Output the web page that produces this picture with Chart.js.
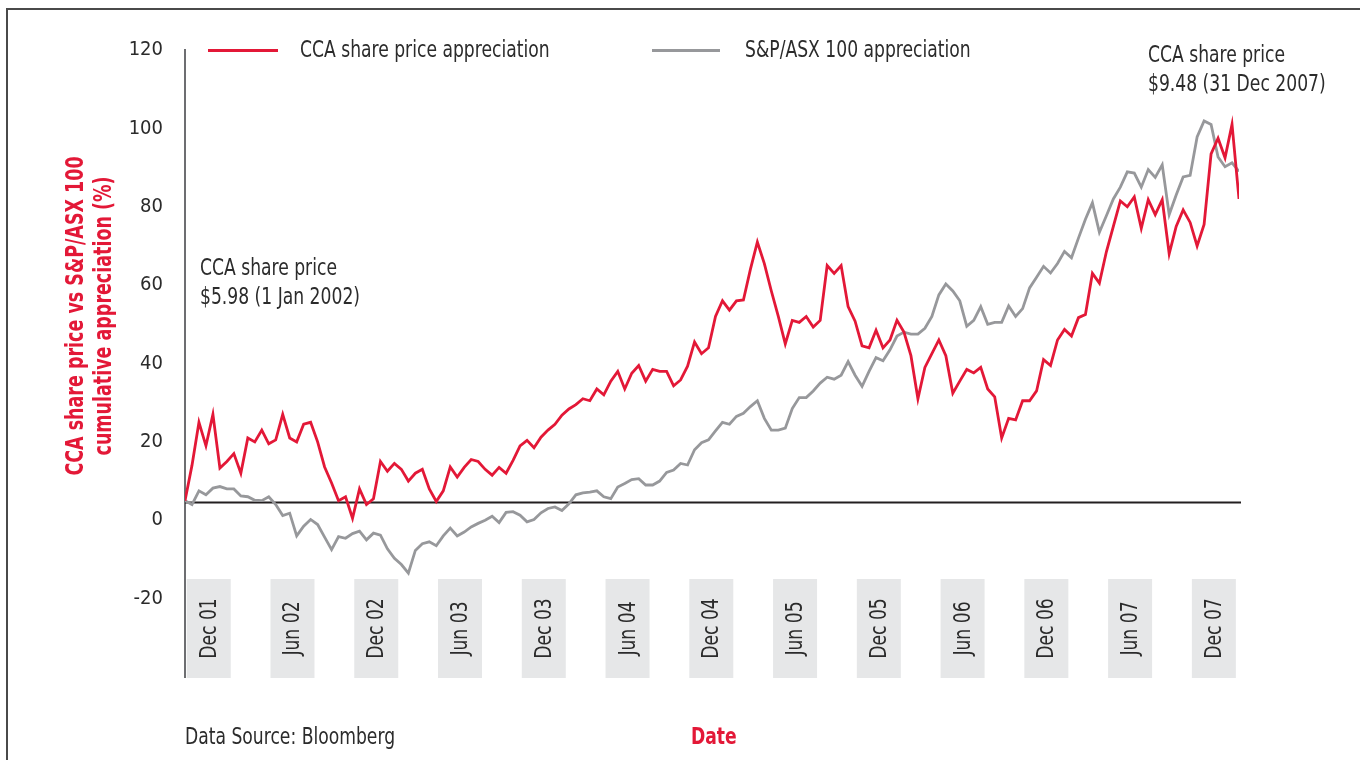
<!DOCTYPE html>
<html>
<head>
<meta charset="utf-8">
<title>CCA share price vs S&P/ASX 100</title>
<script src="https://cdn.jsdelivr.net/npm/chart.js@4.4.1/dist/chart.umd.min.js"></script>
<style>
  html, body { margin: 0; padding: 0; background: #fff; }
  #wrap { position: relative; width: 1360px; height: 760px; overflow: hidden; }
  #chart { position: absolute; left: 0; top: 0; }
  .txt {
    position: absolute;
    font-family: 'DejaVu Sans Condensed', 'DejaVu Sans', Arial, sans-serif;
    font-size: 23px;
    line-height: 29px;
    color: #2b2b2b;
    white-space: nowrap;
    transform: scaleX(0.83);
    transform-origin: 0 50%;
  }
  .frame-top { position: absolute; left: 7px; top: 8px; width: 1353px; height: 2px; background: #4a4a4a; }
  .frame-left { position: absolute; left: 6px; top: 8px; width: 2px; height: 752px; background: #4a4a4a; }
  .key { position: absolute; height: 3px; }
  .txt.ytitle {
    left: -111px; top: 288px; width: 400px; height: 56px;
    transform: rotate(-90deg) scaleX(0.81); transform-origin: 50% 50%;
    text-align: center; font-weight: bold; font-size: 24px; line-height: 28px; color: #e31837;
  }
</style>
</head>
<body>
<div id="wrap">
  <canvas id="chart" width="1360" height="760"></canvas>
  <div class="frame-top"></div>
  <div class="frame-left"></div>

  <div class="key" style="left:208px; top:49px; width:70px; background:#e31837;"></div>
  <div class="txt" style="left:300px; top:35px;">CCA share price appreciation</div>
  <div class="key" style="left:652px; top:49px; width:68px; background:#97989b;"></div>
  <div class="txt" style="left:745px; top:35px;">S&amp;P/ASX 100 appreciation</div>

  <div class="txt" style="left:200px; top:253px;">CCA share price<br>$5.98 (1 Jan 2002)</div>
  <div class="txt" style="left:1148px; top:40px;">CCA share price<br>$9.48 (31 Dec 2007)</div>

  <div class="txt ytitle">CCA share price vs S&amp;P/ASX 100<br>cumulative appreciation (%)</div>

  <div class="txt" style="left:185px; top:722px;">Data Source: Bloomberg</div>
  <div class="txt" style="left:691px; top:722px; font-weight:bold; color:#e31837;">Date</div>
</div>

<script>
// half-monthly samples, cumulative appreciation in %
const ccaValues = [
  5, 14, 25, 19, 27, 13.3, 15, 17, 12, 21,
  20, 23, 19.5, 20.5, 27, 21, 20, 24.5, 25, 20,
  13.6, 9.5, 5, 6, 0.5, 8, 4, 5.5, 15, 12.5,
  14.5, 13, 10, 12, 13, 8, 4.8, 7.5, 13.6, 11,
  13.5, 15.5, 15, 13, 11.5, 13.5, 12, 15.3, 19, 20.4,
  18.5, 21.2, 23, 24.5, 26.8, 28.4, 29.5, 31, 30.5, 33.5,
  32, 35.5, 38, 33.5, 37.5, 39.5, 35.5, 38.5, 38, 38,
  34.3, 35.8, 39.3, 45.5, 42.5, 44, 52, 56, 53.6, 56,
  56.2, 64, 71, 65.5, 58.5, 52, 45, 51, 50.5, 52,
  49.3, 51, 65, 63, 65, 54.5, 50.8, 44.5, 44, 48.5,
  44, 46, 51, 48, 42, 31, 39, 42.5, 46, 42,
  32.4, 35.5, 38.5, 37.6, 39, 33.5, 31.5, 21, 26, 25.6,
  30.5, 30.5, 33, 41, 39.5, 46, 48.7, 47, 51.7, 52.5,
  63, 60.5, 68.5, 75, 81.5, 80, 82.5, 74.5, 81.8, 78,
  81.8, 68, 75, 79.2, 76, 70, 75.5, 93.5, 97.5, 92.5,
  101, 82
];

const asxValues = [
  5, 4, 7.5, 6.5, 8.2, 8.6, 8, 8, 6.2, 6,
  5.1, 5, 6, 4, 1.2, 1.8, -4, -1.5, 0.2, -1.1,
  -4.3, -7.5, -4.2, -4.6, -3.4, -2.8, -5, -3.3, -3.8, -7.3,
  -9.7, -11.3, -13.5, -7.7, -6, -5.5, -6.5, -4, -2, -4,
  -3, -1.7, -0.8, 0, 1, -0.6, 2, 2.2, 1.3, -0.4,
  0.2, 1.9, 3, 3.4, 2.5, 4.2, 6.5, 7, 7.2, 7.5,
  6, 5.5, 8.5, 9.4, 10.4, 10.6, 9, 9, 10, 12.2,
  12.8, 14.5, 14.1, 18, 19.8, 20.5, 22.8, 25, 24.5, 26.5,
  27.3, 29, 30.5, 26, 23, 23, 23.5, 28.5, 31.3, 31.3,
  33, 35, 36.5, 36, 37, 40.5, 37, 34.2, 38, 41.5,
  40.7, 43.5, 47, 48, 47.5, 47.5, 49, 52, 57.5, 60.3,
  58.5, 56, 49.5, 51, 54.5, 50, 50.5, 50.5, 54.7, 52,
  54, 59.3, 62, 64.8, 63.1, 65.5, 68.6, 67, 72, 76.8,
  81, 73.5, 77.7, 82, 85, 88.9, 88.6, 85, 89.5, 87.5,
  90.7, 78, 83, 87.6, 88, 97.8, 101.9, 101, 92.7, 90.2,
  91.2, 89
];

const dateLabels = ['Dec 01', 'Jun 02', 'Dec 02', 'Jun 03', 'Dec 03', 'Jun 04', 'Dec 04',
                    'Jun 05', 'Dec 05', 'Jun 06', 'Dec 06', 'Jun 07', 'Dec 07'];
const firstDateTick = 3.4;   // in half-month samples
const dateTickStep = 12;     // six months
const baselineValue = 4.6;   // horizontal reference line
const yTickValues = [-20, 0, 20, 40, 60, 80, 100, 120];

const RED = '#e31837';
const GREY = '#97989b';
const FONT = "'DejaVu Sans Condensed', 'DejaVu Sans', Arial, sans-serif";

const toPoints = arr => arr.map((v, i) => ({ x: i, y: v }));

// reference line at the start level
const baseline = {
    id: 'baseline',
    beforeDatasetsDraw(chart) {
        const { ctx, scales: { x, y } } = chart;
        const py = Math.round(y.getPixelForValue(baselineValue)) + 0.5;
        ctx.save();
        ctx.strokeStyle = '#231f20';
        ctx.lineWidth = 2;
        ctx.beginPath();
        ctx.moveTo(x.left, py);
        ctx.lineTo(x.right + 2, py);
        ctx.stroke();
        ctx.restore();
    }
};

// grey boxes with the rotated date labels
const dateBoxes = {
    id: 'dateBoxes',
    beforeDatasetsDraw(chart) {
        const { ctx, chartArea, scales: { x, y } } = chart;
        const top = y.getPixelForValue(-15);
        const bottom = chartArea.bottom + 1;
        ctx.save();
        dateLabels.forEach((label, k) => {
            const cx = x.getPixelForValue(firstDateTick + k * dateTickStep);
            ctx.fillStyle = '#e6e7e8';
            ctx.fillRect(cx - 22, top, 44, bottom - top);
            ctx.save();
            ctx.translate(cx, (top + bottom) / 2);
            ctx.rotate(-Math.PI / 2);
            ctx.scale(0.83, 1);
            ctx.fillStyle = '#2b2b2b';
            ctx.font = '23px ' + FONT;
            ctx.textAlign = 'center';
            ctx.textBaseline = 'middle';
            ctx.fillText(label, 0, 1);
            ctx.restore();
        });
        ctx.restore();
    }
};

const ctx = document.getElementById('chart');

new Chart(ctx, {
    type: 'line',
    data: {
        datasets: [{
            label: 'CCA share price appreciation',
            data: toPoints(ccaValues),
            borderColor: RED,
            borderWidth: 2.8,
            pointRadius: 0,
            tension: 0
        }, {
            label: 'S&P/ASX 100 appreciation',
            data: toPoints(asxValues),
            borderColor: GREY,
            borderWidth: 2.8,
            pointRadius: 0,
            tension: 0
        }]
    },
    options: {
        responsive: false,
        animation: false,
        layout: { padding: { left: 0, top: 50, right: 121, bottom: 83 } },
        plugins: {
            legend: { display: false },
            tooltip: { enabled: false }
        },
        scales: {
            x: {
                type: 'linear',
                min: 0,
                max: ccaValues.length - 1,
                display: false
            },
            y: {
                min: -40,
                max: 120,
                afterBuildTicks: scale => {
                    scale.ticks = yTickValues.map(v => ({ value: v }));
                },
                afterFit: scale => { scale.width = 185; },
                ticks: {
                    padding: 22,
                    color: '#2b2b2b',
                    font: { family: FONT, size: 20 }
                },
                grid: { display: false, drawTicks: false },
                border: { display: true, color: '#6d6e71', width: 2 }
            }
        }
    },
    plugins: [dateBoxes, baseline]
});
</script>
</body>
</html>
